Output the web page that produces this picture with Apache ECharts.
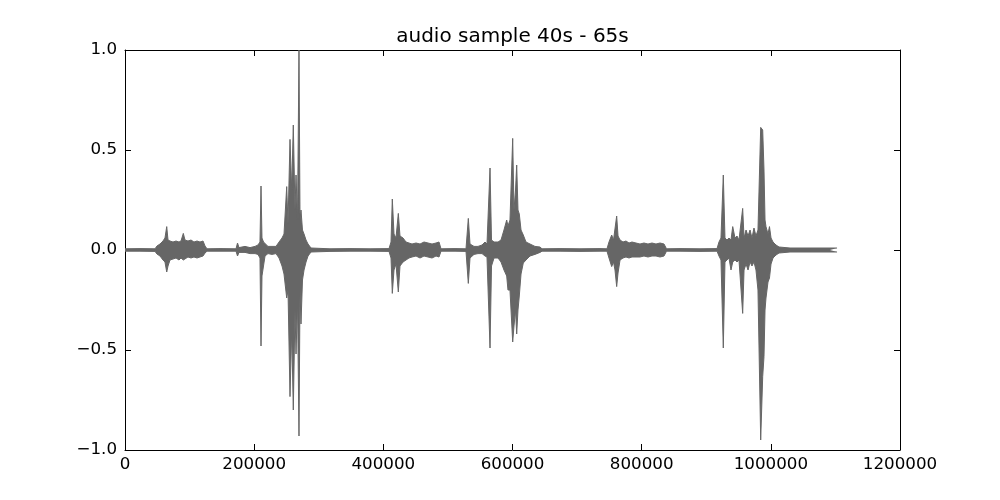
<!DOCTYPE html>
<html>
<head>
<meta charset="utf-8">
<script src="https://cdn.jsdelivr.net/npm/echarts@6/dist/echarts.min.js"></script>
<style>
html,body{margin:0;padding:0;background:#fff;}
#chart{width:1000px;height:500px;}
</style>
</head>
<body>
<div id="chart"></div>
<script>
// ---- data ----
const chartTitle = 'audio sample 40s - 65s';
const xTickValues = [0, 200000, 400000, 600000, 800000, 1000000, 1200000];
const yTickValues = [-1.0, -0.5, 0.0, 0.5, 1.0];
const yTickLabels = ['\u22121.0', '\u22120.5', '0.0', '0.5', '1.0'];

// sample index of each envelope column
const samplePos = [
  0, 23200, 46500, 49500, 54200, 58800, 61900, 64600, 66600, 69700,
  74300, 79000, 83600, 86700, 90300, 92900, 97500, 102200, 106800, 111500,
  116100, 120800, 123900, 127000, 147100, 171900, 174200, 176500, 185800, 193600,
  201300, 205900, 209000, 210600, 212100, 214500, 216800, 221400, 227600, 233800,
  238500, 243100, 246200, 250400, 252400, 255500, 258100, 260600, 263200, 264800,
  267100, 269400, 271000, 272500, 274800, 277200, 280300, 283400, 288000, 317400,
  348400, 379400, 408800, 411900, 413900, 416500, 419600, 423200, 425800, 430500,
  435100, 439700, 444400, 450600, 456800, 463000, 469200, 475400, 481600, 486200,
  489300, 511000, 528000, 531600, 534200, 540400, 546600, 552800, 557400, 560500,
  565200, 567500, 571400, 577600, 582200, 586800, 591000, 593000, 596100, 600300,
  602300, 604700, 606500, 608500, 610500, 613200, 616700, 620900, 627100, 634800,
  642600, 645700, 673600, 704500, 735500, 746300, 749400, 753600, 756400, 758700,
  761300, 763400, 766500, 771100, 775700, 780400, 785000, 791200, 797400, 803600,
  809800, 816000, 822200, 828400, 834600, 838500, 859400, 890300, 916700, 919700,
  922800, 926400, 929000, 932100, 935200, 938300, 941000, 944500, 947600, 950700,
  956400, 958500, 961600, 964700, 967800, 970800, 973900, 977000, 980100, 984300,
  987400, 989400, 991000, 992500, 995600, 997900, 1000300, 1003400, 1008000, 1012700,
  1029700, 1060700, 1091600, 1102500
];
// upper envelope (max amplitude in column)
const envMax = [
  0.006, 0.007, 0.006, 0.020, 0.030, 0.045, 0.060, 0.117, 0.050, 0.045,
  0.040, 0.045, 0.040, 0.045, 0.083, 0.050, 0.045, 0.050, 0.040, 0.045,
  0.040, 0.045, 0.020, 0.006, 0.007, 0.006, 0.035, 0.012, 0.018, 0.012,
  0.018, 0.025, 0.040, 0.320, 0.060, 0.040, 0.030, 0.018, 0.018, 0.018,
  0.040, 0.060, 0.080, 0.317, 0.130, 0.553, 0.300, 0.625, 0.200, 0.375,
  0.150, 1.000, 0.150, 0.200, 0.100, 0.080, 0.050, 0.030, 0.010, 0.006,
  0.007, 0.006, 0.007, 0.040, 0.255, 0.080, 0.060, 0.183, 0.070, 0.060,
  0.040, 0.035, 0.030, 0.035, 0.030, 0.040, 0.035, 0.030, 0.035, 0.040,
  0.006, 0.007, 0.006, 0.158, 0.030, 0.018, 0.018, 0.025, 0.040, 0.030,
  0.410, 0.050, 0.040, 0.040, 0.050, 0.100, 0.150, 0.120, 0.150, 0.558,
  0.200, 0.300, 0.425, 0.200, 0.180, 0.100, 0.075, 0.040, 0.030, 0.018,
  0.015, 0.006, 0.007, 0.006, 0.007, 0.006, 0.040, 0.075, 0.050, 0.060,
  0.170, 0.070, 0.050, 0.040, 0.045, 0.035, 0.040, 0.035, 0.030, 0.035,
  0.030, 0.035, 0.030, 0.035, 0.030, 0.006, 0.007, 0.006, 0.007, 0.040,
  0.060, 0.375, 0.060, 0.050, 0.060, 0.050, 0.117, 0.060, 0.070, 0.050,
  0.208, 0.060, 0.100, 0.070, 0.100, 0.060, 0.110, 0.070, 0.100, 0.613,
  0.600, 0.400, 0.150, 0.117, 0.080, 0.117, 0.060, 0.040, 0.025, 0.015,
  0.010, 0.010, 0.010, 0.010
];
// lower envelope (min amplitude in column)
const envMin = [
  -0.006, -0.006, -0.007, -0.020, -0.030, -0.050, -0.060, -0.110, -0.080, -0.050,
  -0.045, -0.040, -0.050, -0.040, -0.050, -0.040, -0.035, -0.040, -0.035, -0.040,
  -0.035, -0.030, -0.015, -0.006, -0.006, -0.006, -0.030, -0.012, -0.012, -0.018,
  -0.018, -0.022, -0.040, -0.480, -0.130, -0.120, -0.030, -0.018, -0.022, -0.018,
  -0.040, -0.080, -0.120, -0.240, -0.200, -0.733, -0.400, -0.800, -0.300, -0.520,
  -0.250, -0.930, -0.200, -0.370, -0.150, -0.100, -0.060, -0.030, -0.010, -0.007,
  -0.006, -0.006, -0.007, -0.040, -0.217, -0.100, -0.070, -0.210, -0.080, -0.060,
  -0.050, -0.040, -0.035, -0.030, -0.040, -0.030, -0.035, -0.040, -0.030, -0.035,
  -0.006, -0.006, -0.007, -0.167, -0.040, -0.022, -0.018, -0.018, -0.030, -0.035,
  -0.490, -0.080, -0.040, -0.040, -0.060, -0.100, -0.130, -0.200, -0.200, -0.460,
  -0.380, -0.300, -0.420, -0.300, -0.230, -0.120, -0.065, -0.050, -0.030, -0.022,
  -0.012, -0.006, -0.006, -0.007, -0.006, -0.006, -0.040, -0.083, -0.060, -0.100,
  -0.183, -0.115, -0.050, -0.040, -0.035, -0.040, -0.035, -0.035, -0.035, -0.030,
  -0.035, -0.030, -0.030, -0.035, -0.030, -0.006, -0.006, -0.007, -0.006, -0.030,
  -0.050, -0.490, -0.060, -0.050, -0.040, -0.100, -0.060, -0.050, -0.060, -0.050,
  -0.317, -0.100, -0.070, -0.100, -0.060, -0.080, -0.060, -0.100, -0.200, -0.950,
  -0.633, -0.533, -0.300, -0.240, -0.160, -0.140, -0.070, -0.040, -0.025, -0.015,
  -0.010, -0.010, -0.010, -0.010
];

// ---- build ----
const upper = samplePos.map((s, i) => [s, envMax[i]]);
const lower = samplePos.map((s, i) => [s, envMin[i]]);
const labelMap = {};
yTickValues.forEach((v, i) => { labelMap[v.toFixed(1)] = yTickLabels[i]; });

const FONT = 'DejaVu Sans';
const waveColor = '#666666';
const tickStyle = { show: true, inside: true, length: 6, lineStyle: { color: '#000', width: 1 } };
const lineStyleAxis = { show: true, onZero: false, lineStyle: { color: '#000', width: 1 } };

const chart = echarts.init(document.getElementById('chart'), null, { renderer: 'canvas' });
chart.setOption({
  animation: false,
  backgroundColor: '#ffffff',
  graphic: [{
    type: 'text', x: 512.5, y: 37,
    style: { text: chartTitle, fontFamily: FONT, fontSize: 20, fill: '#000', align: 'center', verticalAlign: 'middle' }
  }],
  grid: { left: 125, right: 100, top: 50, bottom: 50, containLabel: false },
  xAxis: [
    {
      type: 'value', min: 0, max: 1200000, interval: 200000, position: 'bottom',
      axisLine: lineStyleAxis, axisTick: tickStyle, splitLine: { show: false },
      axisLabel: { show: true, margin: 6, fontFamily: FONT, fontSize: 16.7, color: '#000',
        formatter: v => String(v) }
    },
    {
      type: 'value', min: 0, max: 1200000, interval: 200000, position: 'top',
      axisLine: lineStyleAxis, axisTick: tickStyle, splitLine: { show: false },
      axisLabel: { show: false }
    }
  ],
  yAxis: [
    {
      type: 'value', min: -1, max: 1, interval: 0.5, position: 'left',
      axisLine: lineStyleAxis, axisTick: tickStyle, splitLine: { show: false },
      axisLabel: { show: true, margin: 8, fontFamily: FONT, fontSize: 16.7, color: '#000',
        formatter: v => labelMap[Number(v).toFixed(1)] }
    },
    {
      type: 'value', min: -1, max: 1, interval: 0.5, position: 'right',
      axisLine: lineStyleAxis, axisTick: tickStyle, splitLine: { show: false },
      axisLabel: { show: false }
    }
  ],
  series: [
    {
      type: 'line', data: upper, xAxisIndex: 0, yAxisIndex: 0,
      showSymbol: false, symbol: 'none', smooth: false, clip: true,
      lineStyle: { color: waveColor, width: 1 },
      areaStyle: { color: waveColor, opacity: 1, origin: 0 },
      z: 2
    },
    {
      type: 'line', data: lower, xAxisIndex: 0, yAxisIndex: 0,
      showSymbol: false, symbol: 'none', smooth: false, clip: true,
      lineStyle: { color: waveColor, width: 1 },
      areaStyle: { color: waveColor, opacity: 1, origin: 0 },
      z: 2
    }
  ]
});
</script>
</body>
</html>
